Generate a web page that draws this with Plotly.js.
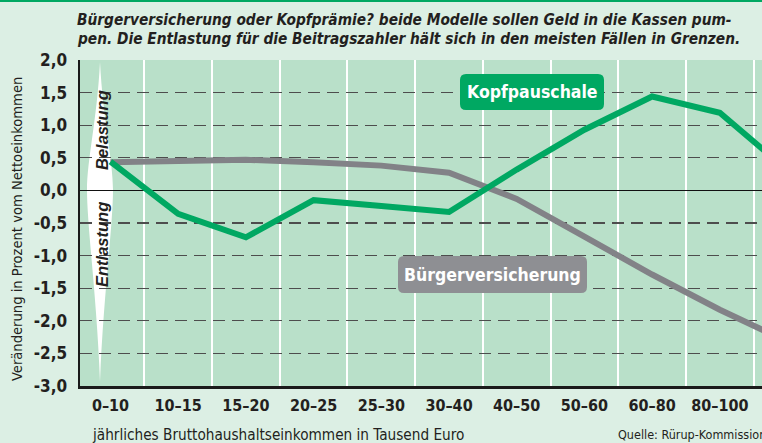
<!DOCTYPE html>
<html>
<head>
<meta charset="utf-8">
<script src="https://cdn.plot.ly/plotly-3.0.1.min.js"></script>
<style>html,body{margin:0;padding:0;background:#dcefe4;}#chart{width:762px;height:443px;}</style>
</head>
<body>
<div id="chart"></div>
<script>
// ---- data ----
const categories = ["0–10","10–15","15–20","20–25","25–30","30–40","40–50","50–60","60–80","80–100","über 100"];
const kopfpauschale = [0.44, -0.36, -0.72, -0.15, -0.24, -0.33, 0.32, 0.93, 1.44, 1.19, 0.31];
const buergerversicherung = [0.43, 0.45, 0.47, 0.43, 0.38, 0.27, -0.13, -0.71, -1.29, -1.83, -2.32];
const yTickValues = [2, 1.5, 1, 0.5, 0, -0.5, -1, -1.5, -2, -2.5, -3];
const yTickLabels = ["2,0","1,5","1,0","0,5","0,0","-0,5","-1,0","-1,5","-2,0","-2,5","-3,0"];

// ---- layout helpers (pixel -> paper) ----
const W = 762, H = 443, L = 80, R = 762, T = 60, B = 386;
const px = v => (v - L) / (R - L);
const py = v => (B - v) / (B - T);
const NARROW = "DejaVu Sans Condensed, DejaVu Sans, sans-serif";
const SANS = "Liberation Sans, Arial, sans-serif";
const INK = "#231f20";
const GREEN = "#00a862";
const GREY = "#828287";

function roundRect(x0, y0, x1, y1, r) {
  const P = (x, y) => px(x) + "," + py(y);
  return "M" + P(x0 + r, y0) + " L" + P(x1 - r, y0) + " Q" + P(x1, y0) + " " + P(x1, y0 + r) +
    " L" + P(x1, y1 - r) + " Q" + P(x1, y1) + " " + P(x1 - r, y1) +
    " L" + P(x0 + r, y1) + " Q" + P(x0, y1) + " " + P(x0, y1 - r) +
    " L" + P(x0, y0 + r) + " Q" + P(x0, y0) + " " + P(x0 + r, y0) + " Z";
}
function lens() {
  const P = (x, y) => px(x) + "," + py(y);
  return "M" + P(100, 62) + " C" + P(103, 120) + " " + P(113, 160) + " " + P(113, 190) +
    " C" + P(113, 225) + " " + P(103, 300) + " " + P(100, 382) +
    " C" + P(97, 300) + " " + P(87, 225) + " " + P(87, 190) +
    " C" + P(87, 160) + " " + P(97, 120) + " " + P(100, 62) + " Z";
}

const traces = [
  {x: categories, y: buergerversicherung, type: "scatter", mode: "lines",
   line: {color: GREY, width: 6}, hoverinfo: "skip", showlegend: false},
  {x: categories, y: kopfpauschale, type: "scatter", mode: "lines",
   line: {color: GREEN, width: 6}, hoverinfo: "skip", showlegend: false}
];

const layout = {
  width: W, height: H,
  margin: {l: L, r: W - R, t: T, b: H - B, pad: 0},
  paper_bgcolor: "#dcefe4",
  plot_bgcolor: "#b9e0c9",
  showlegend: false,
  xaxis: {
    type: "category", range: [-0.4505, 9.623], tickson: "boundaries",
    showgrid: true, gridcolor: "#ffffff", gridwidth: 2,
    showline: true, linecolor: "#1a1a1a", linewidth: 2.5,
    ticks: "", ticklabelstandoff: 3, tickangle: 0,
    tickfont: {family: NARROW, size: 16, color: INK, weight: "bold"},
    zeroline: false, fixedrange: true
  },
  yaxis: {
    range: [-3, 2], tickvals: yTickValues, ticktext: yTickLabels,
    showgrid: true, gridcolor: "#4d4d4d", gridwidth: 1.3, griddash: "12px,7px",
    zeroline: true, zerolinecolor: "#111111", zerolinewidth: 1.6,
    showline: true, linecolor: "#1a1a1a", linewidth: 2.5,
    ticks: "", ticklabelstandoff: 7,
    tickfont: {family: NARROW, size: 17, color: INK, weight: "bold"},
    fixedrange: true
  },
  shapes: [
    {type: "rect", xref: "paper", yref: "paper", x0: px(0), x1: px(W), y0: py(0), y1: py(2),
     fillcolor: GREEN, line: {width: 0}, layer: "above"},
    {type: "path", xref: "paper", yref: "paper", path: lens(), fillcolor: "#ffffff",
     line: {width: 0}, layer: "between"},
    {type: "path", xref: "paper", yref: "paper", path: roundRect(460, 74, 604, 110, 6),
     fillcolor: GREEN, line: {width: 0}, layer: "above"},
    {type: "path", xref: "paper", yref: "paper", path: roundRect(398, 256, 587, 293, 6),
     fillcolor: "#8e8f93", line: {width: 0}, layer: "above"}
  ],
  annotations: [
    {xref: "paper", yref: "paper", x: px(75), y: py(20), xanchor: "left", yanchor: "middle", showarrow: false,
     text: "<b><i>Bürgerversicherung oder Kopfprämie? beide Modelle sollen Geld in die Kassen pum-</i></b>",
     font: {family: NARROW, size: 15.3, color: INK}},
    {xref: "paper", yref: "paper", x: px(75), y: py(38.5), xanchor: "left", yanchor: "middle", showarrow: false,
     text: "<b><i>pen. Die Entlastung für die Beitragszahler hält sich in den meisten Fällen in Grenzen.</i></b>",
     font: {family: NARROW, size: 15.3, color: INK}},
    {xref: "paper", yref: "paper", x: px(16), y: py(229), xanchor: "center", yanchor: "middle", showarrow: false,
     textangle: -90, text: "Veränderung in Prozent vom Nettoeinkommen",
     font: {family: NARROW, size: 14.6, color: INK}},
    {xref: "paper", yref: "paper", x: px(90), y: py(435), xanchor: "left", yanchor: "middle", showarrow: false,
     text: "jährliches Bruttohaushaltseinkommen in Tausend Euro",
     font: {family: NARROW, size: 15.2, color: INK}},
    {xref: "paper", yref: "paper", x: px(616), y: py(434), xanchor: "left", yanchor: "middle", showarrow: false,
     text: "Quelle: Rürup-Kommission",
     font: {family: NARROW, size: 12.5, color: INK}},
    {xref: "paper", yref: "paper", x: px(532), y: py(92), xanchor: "center", yanchor: "middle", showarrow: false,
     text: "<b>Kopfpauschale</b>", font: {family: NARROW, size: 17.5, color: "#ffffff"}},
    {xref: "paper", yref: "paper", x: px(492.5), y: py(274.5), xanchor: "center", yanchor: "middle", showarrow: false,
     text: "<b>Bürgerversicherung</b>", font: {family: NARROW, size: 17.5, color: "#ffffff"}},
    {xref: "paper", yref: "paper", x: px(102), y: py(130), xanchor: "center", yanchor: "middle", showarrow: false,
     textangle: -90, text: "<b><i>Belastung</i></b>", font: {family: SANS, size: 16.5, color: INK}},
    {xref: "paper", yref: "paper", x: px(102), y: py(245), xanchor: "center", yanchor: "middle", showarrow: false,
     textangle: -90, text: "<b><i>Entlastung</i></b>", font: {family: SANS, size: 16.5, color: INK}}
  ]
};

Plotly.newPlot("chart", traces, layout, {staticPlot: true, displayModeBar: false});
</script>
</body>
</html>
